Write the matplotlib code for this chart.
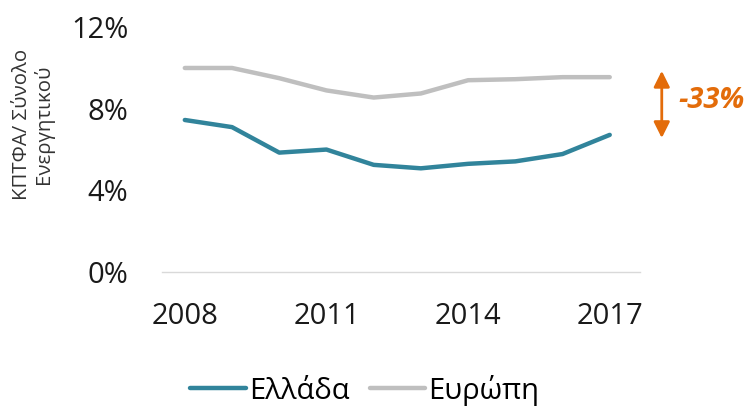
import matplotlib.pyplot as plt

# Data
years = [2008, 2009, 2010, 2011, 2012, 2013, 2014, 2015, 2016, 2017]
greece = [7.45, 7.1, 5.85, 6.0, 5.25, 5.08, 5.3, 5.42, 5.78, 6.72]
europe = [10.0, 10.0, 9.5, 8.9, 8.55, 8.75, 9.4, 9.45, 9.55, 9.55]
xticks = [2008, 2011, 2014, 2017]
yticks = [0, 4, 8, 12]
change_label = "-33%"

plt.rcParams['font.family'] = ['Open Sans', 'DejaVu Sans']

fig = plt.figure(figsize=(7.52, 4.12), dpi=100)
ax = fig.add_axes([0.215, 0.34, 0.636, 0.594])

ax.plot(years, greece, color='#31849B', lw=3.2, label='Ελλάδα', solid_capstyle='round')
ax.plot(years, europe, color='#BFBFBF', lw=3.2, label='Ευρώπη', solid_capstyle='round')

ax.set_xlim(2007.51, 2017.64)
ax.set_ylim(0, 12)
ax.set_xticks(xticks)
ax.set_yticks(yticks)
ax.set_yticklabels([f"{v}%" for v in yticks])
ax.tick_params(length=0, labelsize=21, colors='#1a1a1a')
ax.tick_params(axis='x', pad=22)
ax.tick_params(axis='y', pad=24)
for s in ['top', 'right', 'left']:
    ax.spines[s].set_visible(False)
ax.spines['bottom'].set_color('#D9D9D9')
ax.spines['bottom'].set_linewidth(1)

# y label (two lines, rotated)
fig.text(0.044, 0.698, "ΚΠΤΦΑ/ Σύνολο\nΕνεργητικού", rotation=90,
         ha='center', va='center', fontsize=14.7, color='#333333', linespacing=1.05)

# arrow + change annotation
ax.annotate('', xy=(0.88, 0.665), xytext=(0.88, 0.828), xycoords='figure fraction',
            arrowprops=dict(arrowstyle='<|-|>', color='#E36C0A', lw=2,
                            mutation_scale=24, shrinkA=0, shrinkB=0))
fig.text(0.902, 0.755, change_label, color='#E36C0A', fontsize=21,
         fontweight='bold', fontstyle='italic', ha='left', va='center')

leg = fig.legend(loc='center', bbox_to_anchor=(0.485, 0.053), ncol=2, frameon=False,
                 fontsize=21, handlelength=1.9, handletextpad=0.1, columnspacing=0.7)

fig.savefig('out.png', dpi=100)
